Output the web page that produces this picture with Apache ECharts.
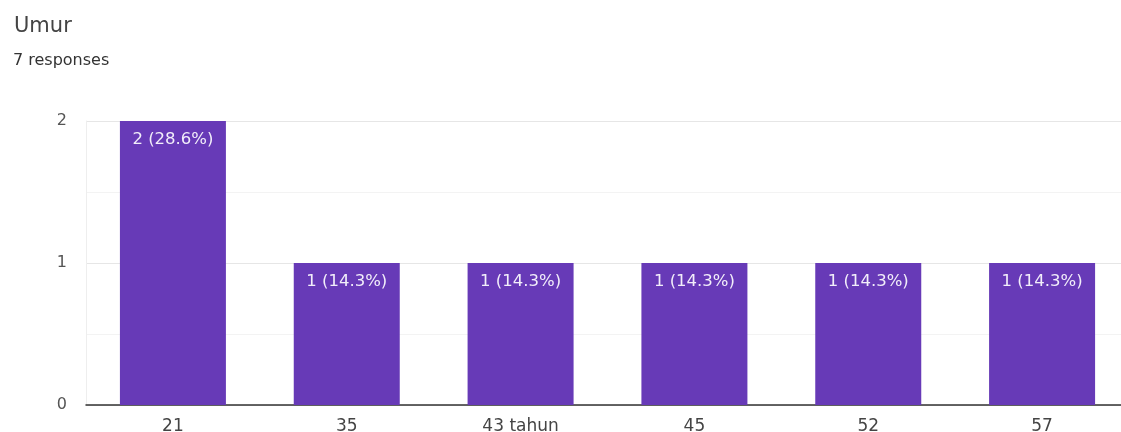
<!DOCTYPE html>
<html><head><meta charset="utf-8">
<script src="https://cdn.jsdelivr.net/npm/echarts@6/dist/echarts.min.js"></script>
<style>html,body{margin:0;padding:0;background:#fff}#c{width:1121px;height:432px}</style>
</head><body><div id="c"></div>
<script>
const categories = ['21', '35', '43 tahun', '45', '52', '57'];
const counts = [2, 1, 1, 1, 1, 1];
const percents = ['28.6%', '14.3%', '14.3%', '14.3%', '14.3%', '14.3%'];
const yTicks = [0, 1, 2];

const FONT = 'DejaVu Sans';
const chart = echarts.init(document.getElementById('c'));
chart.setOption({
  backgroundColor: '#fff',
  animation: false,
  title: [
    { text: 'Umur', left: 9, top: 11, textStyle: { fontFamily: FONT, fontSize: 21, fontWeight: 'normal', color: '#444' } },
    { text: '7 responses', left: 8, top: 48, textStyle: { fontFamily: FONT, fontSize: 16, fontWeight: 'normal', color: '#333' } }
  ],
  grid: { left: 86, width: 1043, top: 121, height: 284, containLabel: false, outerBoundsMode: 'none' },
  xAxis: {
    type: 'category',
    data: categories,
    axisLine: { show: true, lineStyle: { color: '#333', width: 1.5 } },
    axisTick: { show: false },
    axisLabel: { color: '#444', fontFamily: FONT, fontSize: 17, margin: 13 },
    splitLine: { show: false }
  },
  yAxis: {
    type: 'value',
    min: yTicks[0], max: yTicks[yTicks.length - 1], interval: 1,
    axisLine: { show: true, lineStyle: { color: '#eee' } },
    axisTick: { show: false },
    axisLabel: { color: '#555', fontFamily: FONT, fontSize: 16, margin: 19 },
    splitLine: { show: true, lineStyle: { color: '#e6e6e6' } },
    minorTick: { show: false, splitNumber: 2 },
    minorSplitLine: { show: true, lineStyle: { color: '#f3f3f3' } }
  },
  series: [{
    type: 'bar',
    data: counts,
    barWidth: 106,
    itemStyle: { color: '#673ab7' },
    label: {
      show: true, position: 'insideTop', distance: 10,
      color: '#f2eefa', fontFamily: FONT, fontSize: 16.5,
      formatter: p => p.value + ' (' + percents[p.dataIndex] + ')'
    }
  }]
});
</script></body></html>
